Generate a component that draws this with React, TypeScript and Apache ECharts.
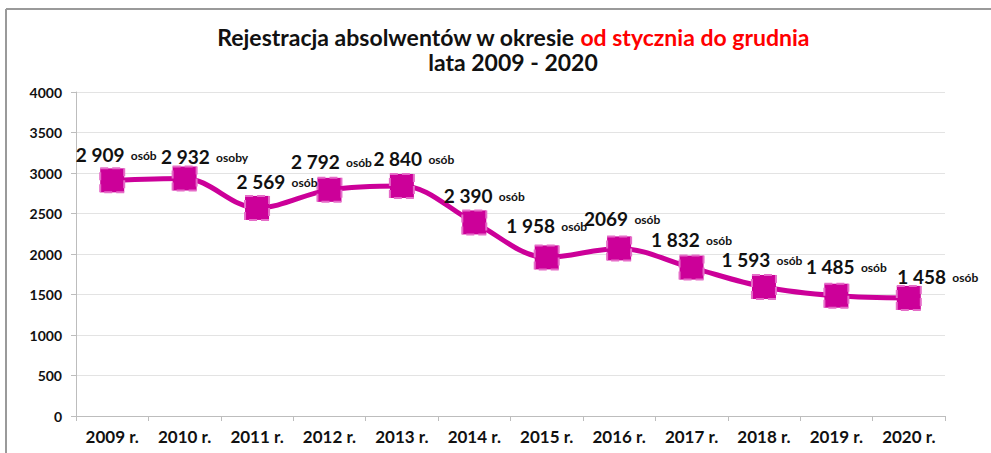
import React, { useEffect, useRef } from "react";
import * as echarts from "echarts";

const categories = ["2009 r.", "2010 r.", "2011 r.", "2012 r.", "2013 r.", "2014 r.", "2015 r.", "2016 r.", "2017 r.", "2018 r.", "2019 r.", "2020 r."];
const values = [2909, 2932, 2569, 2792, 2840, 2390, 1958, 2069, 1832, 1593, 1485, 1458];
const valueLabels = ["2 909", "2 932", "2 569", "2 792", "2 840", "2 390", "1 958", "2069", "1 832", "1 593", "1 485", "1 458"];
const unitLabels = ["osób", "osoby", "osób", "osób", "osób", "osób", "osób", "osób", "osób", "osób", "osób", "osób"];
const yTicks = { min: 0, max: 4000, interval: 500 };
// manual label nudges (as in the original, where some labels were dragged)
const labelNudgeX = [4, 20, 20, 2, 12, 10, 0, 3, 0, -2, 10, 29];
const labelNudgeY = [2, 5, 1, -1, 0, 1, -4, -2, -1, 0, -2, 6];

const FONT = "Lato, 'Open Sans', sans-serif";
const MAG = "#CC0099";

export default function App() {
  const ref = useRef<HTMLDivElement>(null);
  useEffect(() => {
    if (!ref.current) return;
    const chart = echarts.init(ref.current, undefined, { renderer: "svg" });
    chart.setOption({
      animation: false,
      backgroundColor: "#ffffff",
      title: {
        text: "{a|Rejestracja absolwentów w okresie }{r|od stycznia do grudnia}\n{a|lata 2009 - 2020}",
        left: 508,
        top: 19,
        textAlign: "center",
        textStyle: {
          rich: {
            a: { fontFamily: FONT, fontWeight: "bold", fontSize: 23, color: "#111", lineHeight: 25 },
            r: { fontFamily: FONT, fontWeight: "bold", fontSize: 23, color: "#ff0000", lineHeight: 25 },
          },
        },
      },
      graphic: [
        { type: "line", shape: { x1: 6, y1: 9, x2: 991, y2: 9 }, style: { stroke: "#9a9a9a", lineWidth: 2 } },
        { type: "line", shape: { x1: 6, y1: 9, x2: 6, y2: 453 }, style: { stroke: "#9a9a9a", lineWidth: 2 } },
      ],
      grid: { left: 76, right: 46, top: 92, bottom: 37, containLabel: false },
      xAxis: {
        type: "category",
        data: categories,
        boundaryGap: true,
        axisLine: { lineStyle: { color: "#bdbdbd", width: 1 } },
        axisTick: { show: true, alignWithLabel: false, length: 5, lineStyle: { color: "#bdbdbd" } },
        axisLabel: { fontFamily: FONT, fontWeight: "bold", fontSize: 17, color: "#111", margin: 12 },
      },
      yAxis: {
        type: "value",
        min: yTicks.min,
        max: yTicks.max,
        interval: yTicks.interval,
        axisLine: { show: true, lineStyle: { color: "#bdbdbd" } },
        axisTick: { show: true, length: 5, lineStyle: { color: "#bdbdbd" } },
        axisLabel: { fontFamily: FONT, fontWeight: "bold", fontSize: 14, color: "#111", margin: 14, formatter: (v: number) => String(v) },
        splitLine: { lineStyle: { color: "#e3e3e3" } },
      },
      series: [
        {
          type: "line",
          data: values.map((v, i) => ({ value: v, label: { offset: [labelNudgeX[i], labelNudgeY[i]] } })),
          smooth: 0.35,
          lineStyle: { color: MAG, width: 5 },
          symbol: "rect",
          symbolSize: 24,
          itemStyle: { color: MAG, borderColor: "#e56cc8", borderWidth: 2, borderType: "dashed" },
          label: {
            show: true,
            position: "top",
            distance: 5,
            formatter: (p: any) => `{v|${valueLabels[p.dataIndex]}} {u|${unitLabels[p.dataIndex]}}`,
            rich: {
              v: { fontFamily: FONT, fontWeight: "bold", fontSize: 19, color: "#111" },
              u: { fontFamily: FONT, fontWeight: "bold", fontSize: 12, color: "#111", padding: [2, 0, 0, 3] },
            },
          },
        },
      ],
    });
    return () => chart.dispose();
  }, []);
  return <div ref={ref} style={{ width: 991, height: 453, position: "absolute", left: 0, top: 0 }} />;
}
